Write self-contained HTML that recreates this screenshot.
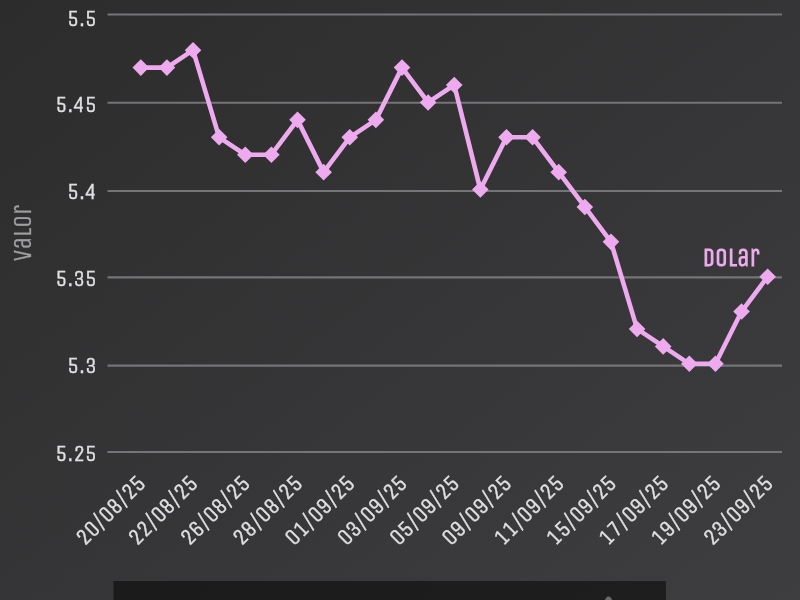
<!DOCTYPE html>
<html><head><meta charset="utf-8"><style>
html,body{margin:0;padding:0;width:800px;height:600px;overflow:hidden;background:#333335}
svg{display:block}
text{font-family:"Unica One","DejaVu Sans Condensed","Liberation Sans",sans-serif}
</style></head><body>
<svg width="800" height="600" viewBox="0 0 800 600">
<defs><linearGradient id="bg" x1="0" y1="0" x2="1" y2="1"><stop offset="0" stop-color="#2c2c2d"/><stop offset="1" stop-color="#3e3e40"/></linearGradient></defs>
<rect x="0" y="0" width="800" height="600" fill="url(#bg)"/>

<line x1="107.5" y1="14.50" x2="782" y2="14.50" stroke="#757578" stroke-width="2.2"/>
<line x1="107.5" y1="102.75" x2="782" y2="102.75" stroke="#757578" stroke-width="2.2"/>
<line x1="107.5" y1="191.00" x2="782" y2="191.00" stroke="#757578" stroke-width="2.2"/>
<line x1="107.5" y1="277.40" x2="782" y2="277.40" stroke="#757578" stroke-width="2.2"/>
<line x1="107.5" y1="365.60" x2="782" y2="365.60" stroke="#757578" stroke-width="2.2"/>
<line x1="107.5" y1="452.00" x2="782" y2="452.00" stroke="#757578" stroke-width="2.2"/>
<text x="96.7" y="26.15" font-size="23.0" fill="#E0E0E3" stroke="#E0E0E3" stroke-width="0.3" text-anchor="end" textLength="29.45" lengthAdjust="spacingAndGlyphs">5.5</text>
<text x="96.7" y="111.65" font-size="23.0" fill="#E0E0E3" stroke="#E0E0E3" stroke-width="0.3" text-anchor="end" textLength="41.17" lengthAdjust="spacingAndGlyphs">5.45</text>
<text x="96.7" y="198.55" font-size="23.0" fill="#E0E0E3" stroke="#E0E0E3" stroke-width="0.3" text-anchor="end" textLength="29.45" lengthAdjust="spacingAndGlyphs">5.4</text>
<text x="96.7" y="286.25" font-size="23.0" fill="#E0E0E3" stroke="#E0E0E3" stroke-width="0.3" text-anchor="end" textLength="41.17" lengthAdjust="spacingAndGlyphs">5.35</text>
<text x="96.7" y="372.90" font-size="23.0" fill="#E0E0E3" stroke="#E0E0E3" stroke-width="0.3" text-anchor="end" textLength="29.45" lengthAdjust="spacingAndGlyphs">5.3</text>
<text x="96.7" y="460.90" font-size="23.0" fill="#E0E0E3" stroke="#E0E0E3" stroke-width="0.3" text-anchor="end" textLength="41.17" lengthAdjust="spacingAndGlyphs">5.25</text>
<text x="0" y="0" font-size="25" fill="#A0A0A3" stroke="#A0A0A3" stroke-width="0.25" text-anchor="middle" transform="translate(31 233.2) rotate(-90)" textLength="56.56" lengthAdjust="spacingAndGlyphs">Valor</text>
<text x="0" y="0" font-size="23.0" fill="#E0E0E3" stroke="#E0E0E3" stroke-width="0.35" text-anchor="end" transform="translate(146.80 484.40) rotate(-45)" textLength="87.88" lengthAdjust="spacingAndGlyphs">20/08/25</text>
<text x="0" y="0" font-size="23.0" fill="#E0E0E3" stroke="#E0E0E3" stroke-width="0.35" text-anchor="end" transform="translate(199.10 484.40) rotate(-45)" textLength="87.88" lengthAdjust="spacingAndGlyphs">22/08/25</text>
<text x="0" y="0" font-size="23.0" fill="#E0E0E3" stroke="#E0E0E3" stroke-width="0.35" text-anchor="end" transform="translate(251.40 484.40) rotate(-45)" textLength="87.88" lengthAdjust="spacingAndGlyphs">26/08/25</text>
<text x="0" y="0" font-size="23.0" fill="#E0E0E3" stroke="#E0E0E3" stroke-width="0.35" text-anchor="end" transform="translate(303.70 484.40) rotate(-45)" textLength="87.88" lengthAdjust="spacingAndGlyphs">28/08/25</text>
<text x="0" y="0" font-size="23.0" fill="#E0E0E3" stroke="#E0E0E3" stroke-width="0.35" text-anchor="end" transform="translate(356.00 484.40) rotate(-45)" textLength="87.88" lengthAdjust="spacingAndGlyphs">01/09/25</text>
<text x="0" y="0" font-size="23.0" fill="#E0E0E3" stroke="#E0E0E3" stroke-width="0.35" text-anchor="end" transform="translate(408.30 484.40) rotate(-45)" textLength="87.88" lengthAdjust="spacingAndGlyphs">03/09/25</text>
<text x="0" y="0" font-size="23.0" fill="#E0E0E3" stroke="#E0E0E3" stroke-width="0.35" text-anchor="end" transform="translate(460.60 484.40) rotate(-45)" textLength="87.88" lengthAdjust="spacingAndGlyphs">05/09/25</text>
<text x="0" y="0" font-size="23.0" fill="#E0E0E3" stroke="#E0E0E3" stroke-width="0.35" text-anchor="end" transform="translate(512.90 484.40) rotate(-45)" textLength="87.88" lengthAdjust="spacingAndGlyphs">09/09/25</text>
<text x="0" y="0" font-size="23.0" fill="#E0E0E3" stroke="#E0E0E3" stroke-width="0.35" text-anchor="end" transform="translate(565.20 484.40) rotate(-45)" textLength="87.88" lengthAdjust="spacingAndGlyphs">11/09/25</text>
<text x="0" y="0" font-size="23.0" fill="#E0E0E3" stroke="#E0E0E3" stroke-width="0.35" text-anchor="end" transform="translate(617.50 484.40) rotate(-45)" textLength="87.88" lengthAdjust="spacingAndGlyphs">15/09/25</text>
<text x="0" y="0" font-size="23.0" fill="#E0E0E3" stroke="#E0E0E3" stroke-width="0.35" text-anchor="end" transform="translate(669.80 484.40) rotate(-45)" textLength="87.88" lengthAdjust="spacingAndGlyphs">17/09/25</text>
<text x="0" y="0" font-size="23.0" fill="#E0E0E3" stroke="#E0E0E3" stroke-width="0.35" text-anchor="end" transform="translate(722.10 484.40) rotate(-45)" textLength="87.88" lengthAdjust="spacingAndGlyphs">19/09/25</text>
<text x="0" y="0" font-size="23.0" fill="#E0E0E3" stroke="#E0E0E3" stroke-width="0.35" text-anchor="end" transform="translate(774.40 484.40) rotate(-45)" textLength="87.88" lengthAdjust="spacingAndGlyphs">23/09/25</text>
<polyline points="140.80,67.60 166.92,67.60 193.04,50.18 219.16,137.30 245.28,154.72 271.40,154.72 297.52,119.87 323.64,172.14 349.76,137.30 375.88,119.87 402.00,67.60 428.12,102.45 454.24,85.02 480.36,189.57 506.48,137.30 532.60,137.30 558.72,172.14 584.84,206.99 610.96,241.84 637.08,328.96 663.20,346.38 689.32,363.81 715.44,363.81 741.56,311.54 767.68,276.69" fill="none" stroke="#eeaaee" stroke-width="4.6" stroke-linejoin="round" stroke-linecap="round"/>
<path d="M140.80 59.30L149.10 67.60L140.80 75.90L132.50 67.60Z" fill="#eeaaee"/>
<path d="M166.92 59.30L175.22 67.60L166.92 75.90L158.62 67.60Z" fill="#eeaaee"/>
<path d="M193.04 41.88L201.34 50.18L193.04 58.48L184.74 50.18Z" fill="#eeaaee"/>
<path d="M219.16 129.00L227.46 137.30L219.16 145.60L210.86 137.30Z" fill="#eeaaee"/>
<path d="M245.28 146.42L253.58 154.72L245.28 163.02L236.98 154.72Z" fill="#eeaaee"/>
<path d="M271.40 146.42L279.70 154.72L271.40 163.02L263.10 154.72Z" fill="#eeaaee"/>
<path d="M297.52 111.57L305.82 119.87L297.52 128.17L289.22 119.87Z" fill="#eeaaee"/>
<path d="M323.64 163.84L331.94 172.14L323.64 180.44L315.34 172.14Z" fill="#eeaaee"/>
<path d="M349.76 129.00L358.06 137.30L349.76 145.60L341.46 137.30Z" fill="#eeaaee"/>
<path d="M375.88 111.57L384.18 119.87L375.88 128.17L367.58 119.87Z" fill="#eeaaee"/>
<path d="M402.00 59.30L410.30 67.60L402.00 75.90L393.70 67.60Z" fill="#eeaaee"/>
<path d="M428.12 94.15L436.42 102.45L428.12 110.75L419.82 102.45Z" fill="#eeaaee"/>
<path d="M454.24 76.72L462.54 85.02L454.24 93.32L445.94 85.02Z" fill="#eeaaee"/>
<path d="M480.36 181.27L488.66 189.57L480.36 197.87L472.06 189.57Z" fill="#eeaaee"/>
<path d="M506.48 129.00L514.78 137.30L506.48 145.60L498.18 137.30Z" fill="#eeaaee"/>
<path d="M532.60 129.00L540.90 137.30L532.60 145.60L524.30 137.30Z" fill="#eeaaee"/>
<path d="M558.72 163.84L567.02 172.14L558.72 180.44L550.42 172.14Z" fill="#eeaaee"/>
<path d="M584.84 198.69L593.14 206.99L584.84 215.29L576.54 206.99Z" fill="#eeaaee"/>
<path d="M610.96 233.54L619.26 241.84L610.96 250.14L602.66 241.84Z" fill="#eeaaee"/>
<path d="M637.08 320.66L645.38 328.96L637.08 337.26L628.78 328.96Z" fill="#eeaaee"/>
<path d="M663.20 338.08L671.50 346.38L663.20 354.68L654.90 346.38Z" fill="#eeaaee"/>
<path d="M689.32 355.51L697.62 363.81L689.32 372.11L681.02 363.81Z" fill="#eeaaee"/>
<path d="M715.44 355.51L723.74 363.81L715.44 372.11L707.14 363.81Z" fill="#eeaaee"/>
<path d="M741.56 303.24L749.86 311.54L741.56 319.84L733.26 311.54Z" fill="#eeaaee"/>
<path d="M767.68 268.39L775.98 276.69L767.68 284.99L759.38 276.69Z" fill="#eeaaee"/>
<text x="731.0" y="265.7" font-size="25" font-weight="bold" fill="#eeaaee" text-anchor="middle" textLength="57.20" lengthAdjust="spacingAndGlyphs">Dolar</text>
<rect x="113.5" y="581" width="552.5" height="30" fill="#000" fill-opacity="0.5"/>
<ellipse cx="608.5" cy="601.2" rx="3.6" ry="4.6" fill="#6a6a6c"/>
</svg></body></html>
